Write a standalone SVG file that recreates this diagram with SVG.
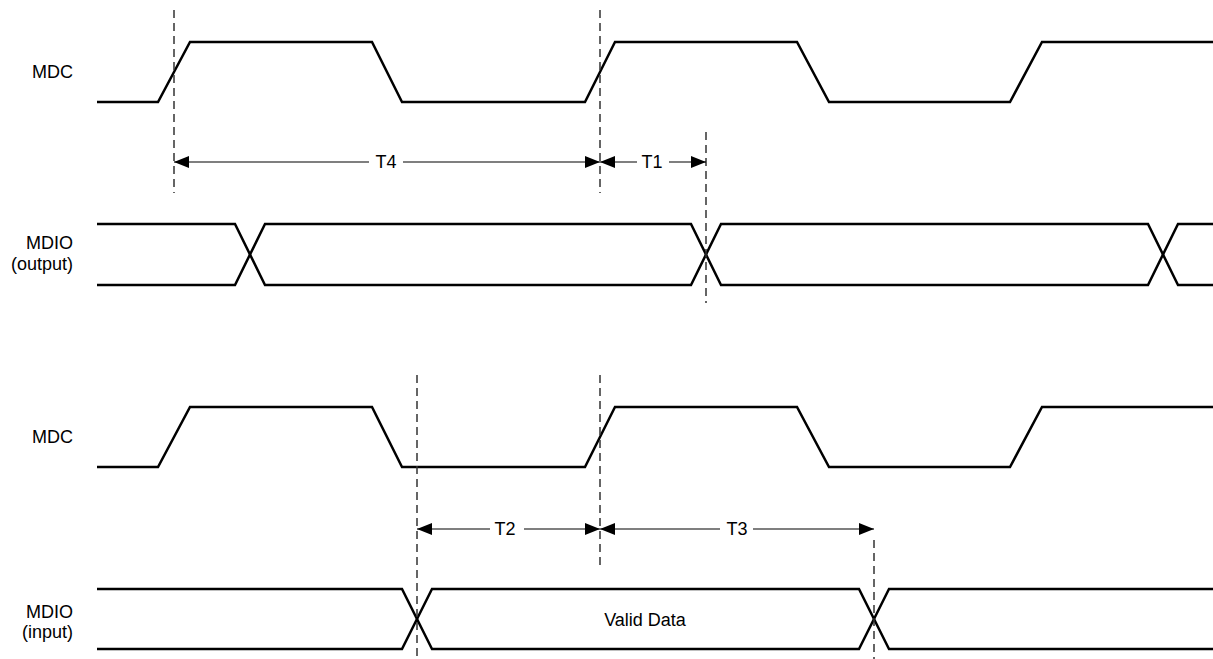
<svg xmlns="http://www.w3.org/2000/svg" width="1213" height="659" viewBox="0 0 1213 659">
<style>
.wave{fill:none;stroke:#000;stroke-width:2.5;stroke-linejoin:miter}
.dash{fill:none;stroke:#333;stroke-width:1.5;stroke-dasharray:8,5}
.dim{fill:none;stroke:#000;stroke-width:1.2}
.lbl{font-family:"Liberation Sans",Arial,sans-serif;font-size:18px;fill:#000}
.r{text-anchor:end}
.c{text-anchor:middle}
</style>
<defs>
<marker id="ah" markerUnits="userSpaceOnUse" markerWidth="16" markerHeight="13" refX="15" refY="6" orient="auto-start-reverse" viewBox="0 0 16 12">
<path d="M0,0 L15,6 L0,12 z" fill="#000"/>
</marker>
</defs>
<rect width="1213" height="659" fill="#fff"/>
<g id="mdc-top">
<text class="lbl r" x="73" y="78">MDC</text>
<path class="wave" d="M97,102 L158,102 L190,42 L372,42 L402,102 L585,102 L615,42 L797,42 L829,102 L1010,102 L1042,42 L1213,42"/>
</g>
<g id="mdio-output">
<text class="lbl r" x="73" y="249">MDIO</text>
<text class="lbl r" x="73" y="270">(output)</text>
<path class="wave" d="M97,224 L235,224 L265,285 L691,285 L721,224 L1148,224 L1178,285 L1213,285"/>
<path class="wave" d="M97,285 L235,285 L265,224 L691,224 L721,285 L1148,285 L1178,224 L1213,224"/>
</g>
<g id="mdc-bottom">
<text class="lbl r" x="73" y="443">MDC</text>
<path class="wave" d="M97,467 L158,467 L190,407 L372,407 L402,467 L585,467 L615,407 L797,407 L829,467 L1010,467 L1042,407 L1213,407"/>
</g>
<g id="mdio-input">
<text class="lbl r" x="73" y="618">MDIO</text>
<text class="lbl r" x="73" y="638">(input)</text>
<path class="wave" d="M97,589 L402,589 L432,649 L859,649 L889,589 L1213,589"/>
<path class="wave" d="M97,649 L402,649 L432,589 L859,589 L889,649 L1213,649"/>
<text class="lbl c" x="645" y="626">Valid Data</text>
</g>
<g id="connectors">
<line class="dash" x1="174" y1="10" x2="174" y2="193"/>
<line class="dash" x1="600" y1="10" x2="600" y2="193"/>
<line class="dash" x1="706" y1="132" x2="706" y2="303"/>
<line class="dash" x1="417" y1="375" x2="417" y2="659"/>
<line class="dash" x1="600" y1="375" x2="600" y2="565"/>
<line class="dash" x1="874" y1="540" x2="874" y2="659"/>
<g id="t4">
<line class="dim" x1="174" y1="162" x2="369" y2="162" marker-start="url(#ah)"/>
<line class="dim" x1="403" y1="162" x2="600" y2="162" marker-end="url(#ah)"/>
<text class="lbl c" x="386" y="168">T4</text>
</g>
<g id="t1">
<line class="dim" x1="600" y1="162" x2="637" y2="162" marker-start="url(#ah)"/>
<line class="dim" x1="669" y1="162" x2="706" y2="162" marker-end="url(#ah)"/>
<text class="lbl c" x="652" y="168">T1</text>
</g>
<g id="t2">
<line class="dim" x1="417" y1="529" x2="490" y2="529" marker-start="url(#ah)"/>
<line class="dim" x1="524" y1="529" x2="600" y2="529" marker-end="url(#ah)"/>
<text class="lbl c" x="505" y="535">T2</text>
</g>
<g id="t3">
<line class="dim" x1="600" y1="529" x2="720" y2="529" marker-start="url(#ah)"/>
<line class="dim" x1="753" y1="529" x2="874" y2="529" marker-end="url(#ah)"/>
<text class="lbl c" x="737" y="535">T3</text>
</g>
</g>
</svg>
